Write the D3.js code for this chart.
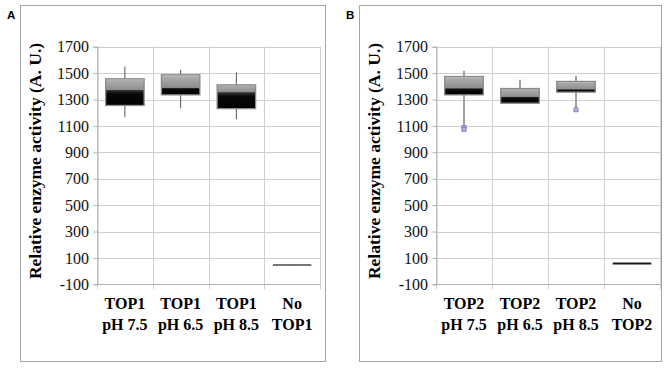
<!DOCTYPE html>
<html><head><meta charset="utf-8">
<script src="https://cdn.jsdelivr.net/npm/d3@7/dist/d3.min.js"></script>
<style>body{margin:0;background:#fff}svg{display:block}
.serif{font-family:'Liberation Serif','Times New Roman',serif}
</style>
</head><body><svg id="c" width="672" height="368"></svg>
<script>
// ---- data ----
const yTicks = [-100, 100, 300, 500, 700, 900, 1100, 1300, 1500, 1700];
const yTitle = "Relative enzyme activity (A. U.)";
const panelLetters = ["A", "B"];

const catsA = [["TOP1", "pH 7.5"], ["TOP1", "pH 6.5"], ["TOP1", "pH 8.5"], ["No", "TOP1"]];
const minA = [1166, 1234, 1151, 47];
const q1A  = [1255, 1335, 1231, 47];
const medA = [1373, 1390, 1356, 47];
const q3A  = [1457, 1487, 1411, 47];
const maxA = [1550, 1525, 1505, 51];
const outA = [[], [], [], []];

const catsB = [["TOP2", "pH 7.5"], ["TOP2", "pH 6.5"], ["TOP2", "pH 8.5"], ["No", "TOP2"]];
const minB = [1100, 1265, 1230, 53];
const q1B  = [1335, 1272, 1356, 57];
const medB = [1386, 1322, 1378, 57];
const q3B  = [1474, 1383, 1437, 57];
const maxB = [1517, 1450, 1480, 57];
const outB = [[1088, 1073], [], [1222], []];

// ---- drawing ----
const svg = d3.select("#c");
const defs = svg.append("defs");
const gu = defs.append("linearGradient").attr("id", "gUp").attr("x1", 0).attr("y1", 0).attr("x2", 0).attr("y2", 1);
gu.append("stop").attr("offset", "0%").attr("stop-color", "#d4d4d4");
gu.append("stop").attr("offset", "18%").attr("stop-color", "#ababab");
gu.append("stop").attr("offset", "100%").attr("stop-color", "#8e8e8e");
const gl = defs.append("linearGradient").attr("id", "gLo").attr("x1", 0).attr("y1", 0).attr("x2", 0).attr("y2", 1);
gl.append("stop").attr("offset", "0%").attr("stop-color", "#3a3a3a");
gl.append("stop").attr("offset", "25%").attr("stop-color", "#0a0a0a");
gl.append("stop").attr("offset", "100%").attr("stop-color", "#000");

function panel(o) {
  const g = svg.append("g");
  g.append("rect").attr("x", o.bx + 0.5).attr("y", 5.5).attr("width", o.bw).attr("height", 356)
    .attr("fill", "#fff").attr("stroke", "#a6a6a6").attr("stroke-width", 1);
  g.append("text").attr("x", o.bx - 13).attr("y", 19).text(o.letter)
    .style("font-family", "'Liberation Sans', Arial, sans-serif").style("font-weight", "bold").style("font-size", "11.5px");

  const y = d3.scaleLinear().domain([-100, 1700]).range([284.3, 46.7]);
  const x = d3.scaleBand().domain(d3.range(o.cats.length)).range([o.x0, o.x1]);

  // grid
  g.append("g").selectAll("line").data(yTicks.slice(1)).join("line")
    .attr("x1", o.x0).attr("x2", o.x1).attr("y1", d => Math.round(y(d)) + 0.5).attr("y2", d => Math.round(y(d)) + 0.5)
    .attr("stroke", "#cfcfcf");
  const edges = d3.range(o.cats.length + 1).map(i => i < o.cats.length ? x(i) : o.x1);
  g.append("g").selectAll("line").data(edges).join("line")
    .attr("x1", d => Math.round(d) + 0.5).attr("x2", d => Math.round(d) + 0.5)
    .attr("y1", y(1700)).attr("y2", y(-100) + 5).attr("stroke", "#cfcfcf");

  // y axis (lines via d3.axis, labels drawn as serif text)
  const ya = d3.axisLeft(y).tickValues(yTicks).tickFormat("").tickSize(4);
  const yg = g.append("g").attr("transform", `translate(${Math.round(o.x0) + 0.5},0)`).call(ya);
  yg.select(".domain").attr("stroke", "#b0b0b0");
  yg.selectAll(".tick line").attr("stroke", "#b0b0b0");
  g.append("g").selectAll("text").data(yTicks).join("text")
    .attr("class", "serif").attr("x", o.x0 - 8).attr("y", d => y(d)).attr("dy", "0.35em")
    .attr("text-anchor", "end").attr("font-size", 16).attr("fill", "#111").text(d => String(d));
  g.append("line").attr("x1", o.x0).attr("x2", o.x1).attr("y1", Math.round(y(-100)) + 0.5).attr("y2", Math.round(y(-100)) + 0.5)
    .attr("stroke", "#b0b0b0");

  // y title
  g.append("text").attr("class", "serif").attr("transform", `translate(${o.x0 - 56},${161}) rotate(-90)`)
    .attr("text-anchor", "middle").attr("font-weight", "bold").attr("font-size", 17.5).text(yTitle);

  // x labels
  o.cats.forEach((c, i) => {
    const t = g.append("text").attr("class", "serif").attr("text-anchor", "middle")
      .attr("font-weight", "bold").attr("font-size", 16);
    t.append("tspan").attr("x", x(i) + x.bandwidth() / 2).attr("y", 309).text(c[0]);
    t.append("tspan").attr("x", x(i) + x.bandwidth() / 2).attr("y", 330).text(c[1]);
  });

  // boxes
  const bw = x.bandwidth() * 0.69;
  o.cats.forEach((c, i) => {
    const cx = x(i) + x.bandwidth() / 2;
    const L = cx - bw / 2;
    g.append("line").attr("x1", cx).attr("x2", cx).attr("y1", y(o.max[i])).attr("y2", y(o.q3[i]))
      .attr("stroke", o.wc).attr("stroke-width", o.ww);
    g.append("line").attr("x1", cx).attr("x2", cx).attr("y1", y(o.q1[i])).attr("y2", y(o.min[i]))
      .attr("stroke", o.wc).attr("stroke-width", o.ww);
    if (o.q3[i] - o.q1[i] < 1) {
      g.append("line").attr("x1", L).attr("x2", L + bw).attr("y1", y(o.med[i])).attr("y2", y(o.med[i]))
        .attr("stroke", o.flat).attr("stroke-width", 2);
      g.append("line").attr("x1", cx).attr("x2", cx).attr("y1", y(o.max[i])).attr("y2", y(o.min[i]))
        .attr("stroke", o.flat).attr("stroke-width", 1);
    } else {
      g.append("rect").attr("x", L).attr("width", bw).attr("y", y(o.q3[i])).attr("height", y(o.med[i]) - y(o.q3[i]))
        .attr("fill", "url(#gUp)");
      g.append("rect").attr("x", L).attr("width", bw).attr("y", y(o.med[i])).attr("height", y(o.q1[i]) - y(o.med[i]))
        .attr("fill", "url(#gLo)");
      g.append("rect").attr("x", L).attr("width", bw).attr("y", y(o.q3[i])).attr("height", y(o.q1[i]) - y(o.q3[i]))
        .attr("fill", "none").attr("stroke", "#8a8a8a").attr("stroke-width", 1.3);
    }
    o.out[i].forEach(v => {
      g.append("rect").attr("x", cx - 2).attr("y", y(v) - 2).attr("width", 4).attr("height", 4)
        .attr("fill", "#b4b4dc").attr("stroke", "#7878b4").attr("stroke-width", 0.8);
    });
  });
}

panel({letter: panelLetters[0], bx: 20, bw: 305, x0: 97, x1: 320, cats: catsA,
  min: minA, q1: q1A, med: medA, q3: q3A, max: maxA, out: outA, wc: "#555", ww: 1, flat: "#777"});
panel({letter: panelLetters[1], bx: 359, bw: 302, x0: 436, x1: 660, cats: catsB,
  min: minB, q1: q1B, med: medB, q3: q3B, max: maxB, out: outB, wc: "#999", ww: 1.8, flat: "#1a1a1a"});
</script></body></html>
